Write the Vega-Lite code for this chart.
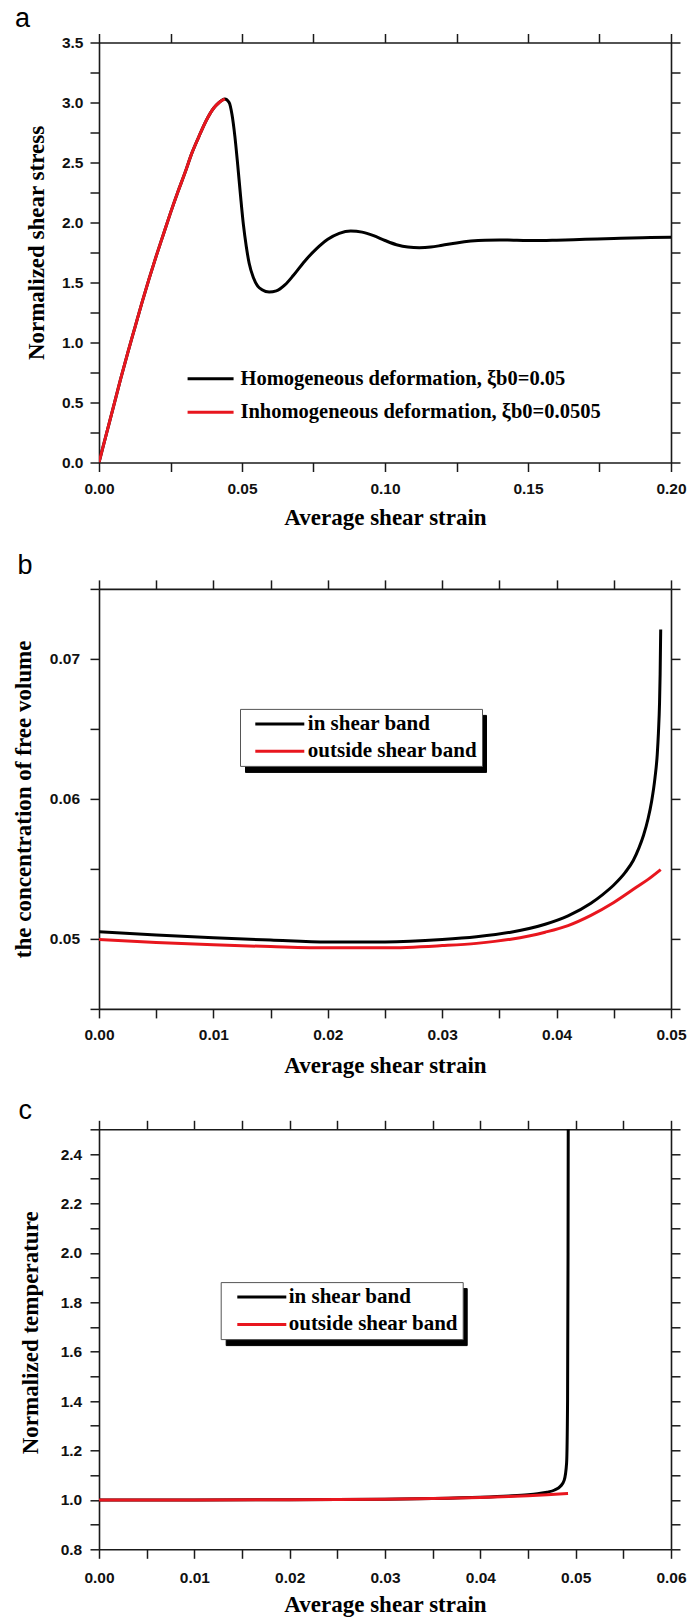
{
"$schema": "https://vega.github.io/schema/vega-lite/v6.json",
"background": "white",
"padding": {"left": 12, "top": 4.5, "right": 0, "bottom": 0},
"spacing": 18.4,
"resolve": {"scale": {"stroke": "independent", "shape": "independent"}},
"config": {
  "view": {"stroke": null},
  "axis": {"grid": false, "domainColor": "#1a1a1a", "domainWidth": 1.6, "tickColor": "#1a1a1a", "tickWidth": 1.5, "tickSize": 9,
    "labelFont": "Liberation Sans", "labelFontWeight": "bold", "labelFontSize": 15.5, "labelColor": "#111111",
    "labelOverlap": false, "labelFlush": false, "labelBound": false,
    "titleFont": "Liberation Serif", "titleFontWeight": "bold", "titleFontSize": 23, "titleColor": "#000000"},
  "title": {"font": "Liberation Sans", "fontSize": 27, "fontWeight": "normal", "color": "#000000", "anchor": "start", "frame": "group"},
  "legend": {"labelFont": "Liberation Serif", "labelFontWeight": "bold", "labelFontSize": 20.5, "labelColor": "#000000", "labelLimit": 0, "symbolType": "M-3,0H3", "symbolStrokeWidth": 3}
},
"datasets": {
  "pa": [
    {"strain": 0, "stress": 0, "series": "Homogeneous deformation, ξb0=0.05"},
    {"strain": 0.0025, "stress": 0.23, "series": "Homogeneous deformation, ξb0=0.05"},
    {"strain": 0.005, "stress": 0.46, "series": "Homogeneous deformation, ξb0=0.05"},
    {"strain": 0.0075, "stress": 0.69, "series": "Homogeneous deformation, ξb0=0.05"},
    {"strain": 0.01, "stress": 0.91, "series": "Homogeneous deformation, ξb0=0.05"},
    {"strain": 0.0125, "stress": 1.12, "series": "Homogeneous deformation, ξb0=0.05"},
    {"strain": 0.015, "stress": 1.33, "series": "Homogeneous deformation, ξb0=0.05"},
    {"strain": 0.0175, "stress": 1.53, "series": "Homogeneous deformation, ξb0=0.05"},
    {"strain": 0.02, "stress": 1.72, "series": "Homogeneous deformation, ξb0=0.05"},
    {"strain": 0.0225, "stress": 1.9, "series": "Homogeneous deformation, ξb0=0.05"},
    {"strain": 0.025, "stress": 2.08, "series": "Homogeneous deformation, ξb0=0.05"},
    {"strain": 0.0275, "stress": 2.25, "series": "Homogeneous deformation, ξb0=0.05"},
    {"strain": 0.03, "stress": 2.41, "series": "Homogeneous deformation, ξb0=0.05"},
    {"strain": 0.0325, "stress": 2.58, "series": "Homogeneous deformation, ξb0=0.05"},
    {"strain": 0.035, "stress": 2.72, "series": "Homogeneous deformation, ξb0=0.05"},
    {"strain": 0.0375, "stress": 2.85, "series": "Homogeneous deformation, ξb0=0.05"},
    {"strain": 0.04, "stress": 2.95, "series": "Homogeneous deformation, ξb0=0.05"},
    {"strain": 0.042, "stress": 3.0, "series": "Homogeneous deformation, ξb0=0.05"},
    {"strain": 0.044, "stress": 3.03, "series": "Homogeneous deformation, ξb0=0.05"},
    {"strain": 0.0455, "stress": 3.0, "series": "Homogeneous deformation, ξb0=0.05"},
    {"strain": 0.0465, "stress": 2.9, "series": "Homogeneous deformation, ξb0=0.05"},
    {"strain": 0.0475, "stress": 2.72, "series": "Homogeneous deformation, ξb0=0.05"},
    {"strain": 0.0485, "stress": 2.48, "series": "Homogeneous deformation, ξb0=0.05"},
    {"strain": 0.0495, "stress": 2.22, "series": "Homogeneous deformation, ξb0=0.05"},
    {"strain": 0.0505, "stress": 1.98, "series": "Homogeneous deformation, ξb0=0.05"},
    {"strain": 0.0515, "stress": 1.8, "series": "Homogeneous deformation, ξb0=0.05"},
    {"strain": 0.0525, "stress": 1.66, "series": "Homogeneous deformation, ξb0=0.05"},
    {"strain": 0.054, "stress": 1.54, "series": "Homogeneous deformation, ξb0=0.05"},
    {"strain": 0.0555, "stress": 1.47, "series": "Homogeneous deformation, ξb0=0.05"},
    {"strain": 0.057, "stress": 1.44, "series": "Homogeneous deformation, ξb0=0.05"},
    {"strain": 0.0595, "stress": 1.42, "series": "Homogeneous deformation, ξb0=0.05"},
    {"strain": 0.062, "stress": 1.43, "series": "Homogeneous deformation, ξb0=0.05"},
    {"strain": 0.065, "stress": 1.48, "series": "Homogeneous deformation, ξb0=0.05"},
    {"strain": 0.068, "stress": 1.56, "series": "Homogeneous deformation, ξb0=0.05"},
    {"strain": 0.072, "stress": 1.68, "series": "Homogeneous deformation, ξb0=0.05"},
    {"strain": 0.076, "stress": 1.78, "series": "Homogeneous deformation, ξb0=0.05"},
    {"strain": 0.08, "stress": 1.86, "series": "Homogeneous deformation, ξb0=0.05"},
    {"strain": 0.084, "stress": 1.91, "series": "Homogeneous deformation, ξb0=0.05"},
    {"strain": 0.088, "stress": 1.93, "series": "Homogeneous deformation, ξb0=0.05"},
    {"strain": 0.092, "stress": 1.92, "series": "Homogeneous deformation, ξb0=0.05"},
    {"strain": 0.096, "stress": 1.89, "series": "Homogeneous deformation, ξb0=0.05"},
    {"strain": 0.1, "stress": 1.85, "series": "Homogeneous deformation, ξb0=0.05"},
    {"strain": 0.104, "stress": 1.815, "series": "Homogeneous deformation, ξb0=0.05"},
    {"strain": 0.108, "stress": 1.795, "series": "Homogeneous deformation, ξb0=0.05"},
    {"strain": 0.112, "stress": 1.79, "series": "Homogeneous deformation, ξb0=0.05"},
    {"strain": 0.116, "stress": 1.795, "series": "Homogeneous deformation, ξb0=0.05"},
    {"strain": 0.12, "stress": 1.81, "series": "Homogeneous deformation, ξb0=0.05"},
    {"strain": 0.125, "stress": 1.83, "series": "Homogeneous deformation, ξb0=0.05"},
    {"strain": 0.13, "stress": 1.845, "series": "Homogeneous deformation, ξb0=0.05"},
    {"strain": 0.135, "stress": 1.853, "series": "Homogeneous deformation, ξb0=0.05"},
    {"strain": 0.14, "stress": 1.855, "series": "Homogeneous deformation, ξb0=0.05"},
    {"strain": 0.145, "stress": 1.852, "series": "Homogeneous deformation, ξb0=0.05"},
    {"strain": 0.15, "stress": 1.85, "series": "Homogeneous deformation, ξb0=0.05"},
    {"strain": 0.155, "stress": 1.85, "series": "Homogeneous deformation, ξb0=0.05"},
    {"strain": 0.16, "stress": 1.853, "series": "Homogeneous deformation, ξb0=0.05"},
    {"strain": 0.17, "stress": 1.86, "series": "Homogeneous deformation, ξb0=0.05"},
    {"strain": 0.18, "stress": 1.867, "series": "Homogeneous deformation, ξb0=0.05"},
    {"strain": 0.19, "stress": 1.873, "series": "Homogeneous deformation, ξb0=0.05"},
    {"strain": 0.2, "stress": 1.878, "series": "Homogeneous deformation, ξb0=0.05"},
    {"strain": 0, "stress": 0, "series": "Inhomogeneous deformation, ξb0=0.0505"},
    {"strain": 0.0025, "stress": 0.23, "series": "Inhomogeneous deformation, ξb0=0.0505"},
    {"strain": 0.005, "stress": 0.46, "series": "Inhomogeneous deformation, ξb0=0.0505"},
    {"strain": 0.0075, "stress": 0.69, "series": "Inhomogeneous deformation, ξb0=0.0505"},
    {"strain": 0.01, "stress": 0.91, "series": "Inhomogeneous deformation, ξb0=0.0505"},
    {"strain": 0.0125, "stress": 1.12, "series": "Inhomogeneous deformation, ξb0=0.0505"},
    {"strain": 0.015, "stress": 1.33, "series": "Inhomogeneous deformation, ξb0=0.0505"},
    {"strain": 0.0175, "stress": 1.53, "series": "Inhomogeneous deformation, ξb0=0.0505"},
    {"strain": 0.02, "stress": 1.72, "series": "Inhomogeneous deformation, ξb0=0.0505"},
    {"strain": 0.0225, "stress": 1.9, "series": "Inhomogeneous deformation, ξb0=0.0505"},
    {"strain": 0.025, "stress": 2.08, "series": "Inhomogeneous deformation, ξb0=0.0505"},
    {"strain": 0.0275, "stress": 2.25, "series": "Inhomogeneous deformation, ξb0=0.0505"},
    {"strain": 0.03, "stress": 2.41, "series": "Inhomogeneous deformation, ξb0=0.0505"},
    {"strain": 0.0325, "stress": 2.58, "series": "Inhomogeneous deformation, ξb0=0.0505"},
    {"strain": 0.035, "stress": 2.72, "series": "Inhomogeneous deformation, ξb0=0.0505"},
    {"strain": 0.0375, "stress": 2.85, "series": "Inhomogeneous deformation, ξb0=0.0505"},
    {"strain": 0.04, "stress": 2.95, "series": "Inhomogeneous deformation, ξb0=0.0505"},
    {"strain": 0.042, "stress": 3.0, "series": "Inhomogeneous deformation, ξb0=0.0505"},
    {"strain": 0.044, "stress": 3.03, "series": "Inhomogeneous deformation, ξb0=0.0505"}
  ],
  "pb": [
    {"strain": 0, "value": 0.05051, "series": "in shear band"},
    {"strain": 0.005, "value": 0.05028, "series": "in shear band"},
    {"strain": 0.01, "value": 0.05008, "series": "in shear band"},
    {"strain": 0.015, "value": 0.04992, "series": "in shear band"},
    {"strain": 0.02, "value": 0.04978, "series": "in shear band"},
    {"strain": 0.025, "value": 0.04978, "series": "in shear band"},
    {"strain": 0.03, "value": 0.04995, "series": "in shear band"},
    {"strain": 0.033, "value": 0.05015, "series": "in shear band"},
    {"strain": 0.036, "value": 0.05048, "series": "in shear band"},
    {"strain": 0.039, "value": 0.05105, "series": "in shear band"},
    {"strain": 0.041, "value": 0.05165, "series": "in shear band"},
    {"strain": 0.043, "value": 0.05255, "series": "in shear band"},
    {"strain": 0.044, "value": 0.05315, "series": "in shear band"},
    {"strain": 0.045, "value": 0.05385, "series": "in shear band"},
    {"strain": 0.046, "value": 0.05475, "series": "in shear band"},
    {"strain": 0.0467, "value": 0.0556, "series": "in shear band"},
    {"strain": 0.0472, "value": 0.0565, "series": "in shear band"},
    {"strain": 0.0476, "value": 0.0574, "series": "in shear band"},
    {"strain": 0.048, "value": 0.0586, "series": "in shear band"},
    {"strain": 0.0483, "value": 0.0598, "series": "in shear band"},
    {"strain": 0.0486, "value": 0.0615, "series": "in shear band"},
    {"strain": 0.0488, "value": 0.0632, "series": "in shear band"},
    {"strain": 0.0489, "value": 0.0647, "series": "in shear band"},
    {"strain": 0.049, "value": 0.0669, "series": "in shear band"},
    {"strain": 0.04905, "value": 0.0689, "series": "in shear band"},
    {"strain": 0.0491, "value": 0.0721, "series": "in shear band"},
    {"strain": 0, "value": 0.04995, "series": "outside shear band"},
    {"strain": 0.005, "value": 0.04975, "series": "outside shear band"},
    {"strain": 0.01, "value": 0.04958, "series": "outside shear band"},
    {"strain": 0.015, "value": 0.04945, "series": "outside shear band"},
    {"strain": 0.02, "value": 0.04936, "series": "outside shear band"},
    {"strain": 0.025, "value": 0.04936, "series": "outside shear band"},
    {"strain": 0.03, "value": 0.04952, "series": "outside shear band"},
    {"strain": 0.033, "value": 0.04968, "series": "outside shear band"},
    {"strain": 0.036, "value": 0.04998, "series": "outside shear band"},
    {"strain": 0.039, "value": 0.05048, "series": "outside shear band"},
    {"strain": 0.041, "value": 0.05095, "series": "outside shear band"},
    {"strain": 0.043, "value": 0.05168, "series": "outside shear band"},
    {"strain": 0.045, "value": 0.0526, "series": "outside shear band"},
    {"strain": 0.047, "value": 0.0537, "series": "outside shear band"},
    {"strain": 0.048, "value": 0.05425, "series": "outside shear band"},
    {"strain": 0.0491, "value": 0.05495, "series": "outside shear band"}
  ],
  "pc": [
    {"strain": 0, "temp": 1.0, "series": "in shear band"},
    {"strain": 0.01, "temp": 1.0, "series": "in shear band"},
    {"strain": 0.02, "temp": 1.001, "series": "in shear band"},
    {"strain": 0.03, "temp": 1.003, "series": "in shear band"},
    {"strain": 0.035, "temp": 1.006, "series": "in shear band"},
    {"strain": 0.04, "temp": 1.011, "series": "in shear band"},
    {"strain": 0.043, "temp": 1.016, "series": "in shear band"},
    {"strain": 0.045, "temp": 1.021, "series": "in shear band"},
    {"strain": 0.046, "temp": 1.025, "series": "in shear band"},
    {"strain": 0.047, "temp": 1.031, "series": "in shear band"},
    {"strain": 0.0478, "temp": 1.04, "series": "in shear band"},
    {"strain": 0.0484, "temp": 1.055, "series": "in shear band"},
    {"strain": 0.0488, "temp": 1.08, "series": "in shear band"},
    {"strain": 0.04905, "temp": 1.15, "series": "in shear band"},
    {"strain": 0.04915, "temp": 1.4, "series": "in shear band"},
    {"strain": 0.0492, "temp": 2.0, "series": "in shear band"},
    {"strain": 0.04922, "temp": 2.5, "series": "in shear band"},
    {"strain": 0, "temp": 1.0, "series": "outside shear band"},
    {"strain": 0.01, "temp": 1.0, "series": "outside shear band"},
    {"strain": 0.02, "temp": 1.001, "series": "outside shear band"},
    {"strain": 0.03, "temp": 1.003, "series": "outside shear band"},
    {"strain": 0.035, "temp": 1.006, "series": "outside shear band"},
    {"strain": 0.04, "temp": 1.01, "series": "outside shear band"},
    {"strain": 0.043, "temp": 1.014, "series": "outside shear band"},
    {"strain": 0.045, "temp": 1.017, "series": "outside shear band"},
    {"strain": 0.047, "temp": 1.021, "series": "outside shear band"},
    {"strain": 0.0492, "temp": 1.026, "series": "outside shear band"}
  ]
},
"vconcat": [
  {
    "title": {"text": "a", "offset": 0.2, "dx": -84},
    "width": 572, "height": 420,
    "data": {"name": "pa"},
    "layer": [
      {
        "mark": {"type": "point", "opacity": 0, "size": 1},
        "encoding": {
          "x": {"field": "strain", "type": "quantitative", "scale": {"domain": [0, 0.2], "nice": false, "zero": false},
            "axis": {"orient": "top", "values": [0,0.025,0.05,0.075,0.1,0.125,0.15,0.175,0.2], "labels": false, "title": null,
              "encode": {"ticks": {"y2": {"condition": {"test": "abs(datum.value*20-round(datum.value*20))<1e-6", "value": 9}, "value": 5}}}}},
          "y": {"field": "stress", "type": "quantitative", "scale": {"domain": [0, 3.5], "nice": false, "zero": false},
            "axis": {"orient": "right", "values": [0,0.25,0.5,0.75,1,1.25,1.5,1.75,2,2.25,2.5,2.75,3,3.25,3.5], "labels": false, "title": null,
              "encode": {"ticks": {"x2": {"condition": {"test": "abs(datum.value*2-round(datum.value*2))<1e-6", "value": -9}, "value": -5}}}}}
        }
      },
      {
        "transform": [{"filter": {"field": "series", "equal": "Homogeneous deformation, ξb0=0.05"}}],
        "mark": {"type": "line", "strokeWidth": 3, "interpolate": "monotone", "clip": true},
        "encoding": {
          "x": {"field": "strain", "type": "quantitative", "scale": {"domain": [0, 0.2], "nice": false, "zero": false},
            "axis": {"orient": "bottom", "values": [0,0.025,0.05,0.075,0.1,0.125,0.15,0.175,0.2],
              "labelExpr": "abs(datum.value*20-round(datum.value*20))<1e-6 ? format(datum.value,'.2f') : ''",
              "title": ["Average shear strain", ""], "titleLineHeight": 4, "labelPadding": 10, "titlePadding": 9.5,
              "encode": {"ticks": {"y2": {"condition": {"test": "abs(datum.value*20-round(datum.value*20))<1e-6", "value": 9}, "value": 5}}}}},
          "y": {"field": "stress", "type": "quantitative", "scale": {"domain": [0, 3.5], "nice": false, "zero": false},
            "axis": {"orient": "left", "values": [0,0.25,0.5,0.75,1,1.25,1.5,1.75,2,2.25,2.5,2.75,3,3.25,3.5],
              "labelExpr": "abs(datum.value*2-round(datum.value*2))<1e-6 ? format(datum.value,'.1f') : ''",
              "title": "Normalized shear stress", "labelPadding": 7, "titlePadding": 12.8, "titleY": 200,
              "encode": {"ticks": {"x2": {"condition": {"test": "abs(datum.value*2-round(datum.value*2))<1e-6", "value": -9}, "value": -5}}}}},
          "stroke": {"field": "series", "type": "nominal",
            "scale": {"domain": ["Homogeneous deformation, ξb0=0.05", "Inhomogeneous deformation, ξb0=0.0505"], "range": ["#000000", "#e8161e"]},
            "legend": {"title": null, "orient": "none", "legendX": 86, "legendY": 326, "symbolSize": 235, "symbolOffset": 15.33, "labelOffset": 19.6, "rowPadding": 12.5, "padding": 0}}
        }
      },
      {
        "transform": [{"filter": {"field": "series", "equal": "Inhomogeneous deformation, ξb0=0.0505"}}],
        "mark": {"type": "line", "strokeWidth": 3, "interpolate": "monotone", "clip": true},
        "encoding": {
          "x": {"field": "strain", "type": "quantitative", "scale": {"domain": [0, 0.2], "nice": false, "zero": false}, "axis": null},
          "y": {"field": "stress", "type": "quantitative", "scale": {"domain": [0, 3.5], "nice": false, "zero": false}, "axis": null},
          "stroke": {"field": "series", "type": "nominal",
            "scale": {"domain": ["Homogeneous deformation, ξb0=0.05", "Inhomogeneous deformation, ξb0=0.0505"], "range": ["#000000", "#e8161e"]}}
        }
      }
    ]
  },
  {
    "title": {"text": "b", "offset": -1.1, "dx": -81.5},
    "width": 572, "height": 420,
    "data": {"name": "pb"},
    "layer": [
      {
        "mark": {"type": "point", "opacity": 0, "size": 1},
        "encoding": {
          "x": {"field": "strain", "type": "quantitative", "scale": {"domain": [0, 0.05], "nice": false, "zero": false},
            "axis": {"orient": "top", "values": [0,0.005,0.01,0.015,0.02,0.025,0.03,0.035,0.04,0.045,0.05], "labels": false, "title": null,
              "encode": {"ticks": {"y2": {"condition": {"test": "abs(datum.value*100-round(datum.value*100))<1e-6", "value": 9}, "value": 5}}}}},
          "y": {"field": "value", "type": "quantitative", "scale": {"domain": [0.045, 0.075], "nice": false, "zero": false},
            "axis": {"orient": "right", "values": [0.045,0.05,0.055,0.06,0.065,0.07,0.075], "labels": false, "title": null,
              "encode": {"ticks": {"x2": {"condition": {"test": "abs(datum.value*100-round(datum.value*100))<1e-6", "value": -9}, "value": -5}}}}},
          "shape": {"field": "series", "type": "nominal",
            "legend": {"title": null, "orient": "none", "legendX": 146, "legendY": 126, "symbolSize": 266.8, "symbolOffset": 24.8, "labelOffset": 185.5, "labelFontSize": 21, "labelExpr": "''", "rowPadding": 5.3, "padding": 4.5,
              "fillColor": "#000000", "strokeColor": "#000000", "symbolOpacity": 0}}
        }
      },
      {
        "transform": [{"filter": {"field": "series", "equal": "in shear band"}}],
        "mark": {"type": "line", "strokeWidth": 3, "interpolate": "monotone", "clip": true},
        "encoding": {
          "x": {"field": "strain", "type": "quantitative", "scale": {"domain": [0, 0.05], "nice": false, "zero": false},
            "axis": {"orient": "bottom", "values": [0,0.005,0.01,0.015,0.02,0.025,0.03,0.035,0.04,0.045,0.05],
              "labelExpr": "abs(datum.value*100-round(datum.value*100))<1e-6 ? format(datum.value,'.2f') : ''",
              "title": "Average shear strain", "labelPadding": 10, "titlePadding": 10.7,
              "encode": {"ticks": {"y2": {"condition": {"test": "abs(datum.value*100-round(datum.value*100))<1e-6", "value": 9}, "value": 5}}}}},
          "y": {"field": "value", "type": "quantitative", "scale": {"domain": [0.045, 0.075], "nice": false, "zero": false},
            "axis": {"orient": "left", "values": [0.045,0.05,0.055,0.06,0.065,0.07,0.075],
              "labelExpr": "abs(datum.value*100-round(datum.value*100))<1e-6 ? format(datum.value,'.2f') : ''",
              "title": "the concentration of free volume", "labelPadding": 10.5, "titlePadding": 13.5,
              "encode": {"ticks": {"x2": {"condition": {"test": "abs(datum.value*100-round(datum.value*100))<1e-6", "value": -9}, "value": -5}}}}},
          "stroke": {"field": "series", "type": "nominal",
            "scale": {"domain": ["in shear band", "outside shear band"], "range": ["#000000", "#e8161e"]},
            "legend": {"title": null, "orient": "none", "legendX": 141, "legendY": 120, "symbolSize": 266.8, "symbolOffset": 24.8, "labelOffset": 17.5, "labelFontSize": 21, "rowPadding": 5.3, "padding": 4.5,
              "fillColor": "#ffffff", "strokeColor": "#555555"}}
        }
      },
      {
        "transform": [{"filter": {"field": "series", "equal": "outside shear band"}}],
        "mark": {"type": "line", "strokeWidth": 3, "interpolate": "monotone", "clip": true},
        "encoding": {
          "x": {"field": "strain", "type": "quantitative", "scale": {"domain": [0, 0.05], "nice": false, "zero": false}, "axis": null},
          "y": {"field": "value", "type": "quantitative", "scale": {"domain": [0.045, 0.075], "nice": false, "zero": false}, "axis": null},
          "stroke": {"field": "series", "type": "nominal",
            "scale": {"domain": ["in shear band", "outside shear band"], "range": ["#000000", "#e8161e"]}}
        }
      }
    ]
  },
  {
    "title": {"text": "c", "offset": -5.6, "dx": -80.5},
    "width": 572, "height": 420,
    "data": {"name": "pc"},
    "layer": [
      {
        "mark": {"type": "point", "opacity": 0, "size": 1},
        "encoding": {
          "x": {"field": "strain", "type": "quantitative", "scale": {"domain": [0, 0.06], "nice": false, "zero": false},
            "axis": {"orient": "top", "values": [0,0.005,0.01,0.015,0.02,0.025,0.03,0.035,0.04,0.045,0.05,0.055,0.06], "labels": false, "title": null,
              "encode": {"ticks": {"y2": {"condition": {"test": "abs(datum.value*100-round(datum.value*100))<1e-6", "value": 9}, "value": 5}}}}},
          "y": {"field": "temp", "type": "quantitative", "scale": {"domain": [0.8, 2.5], "nice": false, "zero": false},
            "axis": {"orient": "right", "values": [0.8,0.9,1,1.1,1.2,1.3,1.4,1.5,1.6,1.7,1.8,1.9,2,2.1,2.2,2.3,2.4,2.5], "labels": false, "title": null,
              "encode": {"ticks": {"x2": {"condition": {"test": "abs(datum.value*5-round(datum.value*5))<1e-6", "value": -9}, "value": -5}}}}},
          "shape": {"field": "series", "type": "nominal",
            "legend": {"title": null, "orient": "none", "legendX": 126.7, "legendY": 158.8, "symbolSize": 266.8, "symbolOffset": 26.1, "labelOffset": 184.4, "labelFontSize": 21, "labelExpr": "''", "rowPadding": 5.3, "padding": 4.5,
              "fillColor": "#000000", "strokeColor": "#000000", "symbolOpacity": 0}}
        }
      },
      {
        "transform": [{"filter": {"field": "series", "equal": "in shear band"}}],
        "mark": {"type": "line", "strokeWidth": 3, "interpolate": "monotone", "clip": true},
        "encoding": {
          "x": {"field": "strain", "type": "quantitative", "scale": {"domain": [0, 0.06], "nice": false, "zero": false},
            "axis": {"orient": "bottom", "values": [0,0.005,0.01,0.015,0.02,0.025,0.03,0.035,0.04,0.045,0.05,0.055,0.06],
              "labelExpr": "abs(datum.value*100-round(datum.value*100))<1e-6 ? format(datum.value,'.2f') : ''",
              "title": "Average shear strain", "labelPadding": 12, "titlePadding": 8,
              "encode": {"ticks": {"y2": {"condition": {"test": "abs(datum.value*100-round(datum.value*100))<1e-6", "value": 9}, "value": 5}}}}},
          "y": {"field": "temp", "type": "quantitative", "scale": {"domain": [0.8, 2.5], "nice": false, "zero": false},
            "axis": {"orient": "left", "values": [0.8,0.9,1,1.1,1.2,1.3,1.4,1.5,1.6,1.7,1.8,1.9,2,2.1,2.2,2.3,2.4,2.5],
              "labelExpr": "abs(datum.value*5-round(datum.value*5))<1e-6 ? format(datum.value,'.1f') : ''",
              "title": "Normalized temperature", "labelPadding": 8.3, "titlePadding": 17.5, "titleY": 203,
              "encode": {"ticks": {"x2": {"condition": {"test": "abs(datum.value*5-round(datum.value*5))<1e-6", "value": -9}, "value": -5}}}}},
          "stroke": {"field": "series", "type": "nominal",
            "scale": {"domain": ["in shear band", "outside shear band"], "range": ["#000000", "#e8161e"]},
            "legend": {"title": null, "orient": "none", "legendX": 121.7, "legendY": 152.8, "symbolSize": 266.8, "symbolOffset": 26.1, "labelOffset": 16.4, "labelFontSize": 21, "rowPadding": 5.3, "padding": 4.5,
              "fillColor": "#ffffff", "strokeColor": "#555555"}}
        }
      },
      {
        "transform": [{"filter": {"field": "series", "equal": "outside shear band"}}],
        "mark": {"type": "line", "strokeWidth": 3, "interpolate": "monotone", "clip": true},
        "encoding": {
          "x": {"field": "strain", "type": "quantitative", "scale": {"domain": [0, 0.06], "nice": false, "zero": false}, "axis": null},
          "y": {"field": "temp", "type": "quantitative", "scale": {"domain": [0.8, 2.5], "nice": false, "zero": false}, "axis": null},
          "stroke": {"field": "series", "type": "nominal",
            "scale": {"domain": ["in shear band", "outside shear band"], "range": ["#000000", "#e8161e"]}}
        }
      }
    ]
  }
]
}
